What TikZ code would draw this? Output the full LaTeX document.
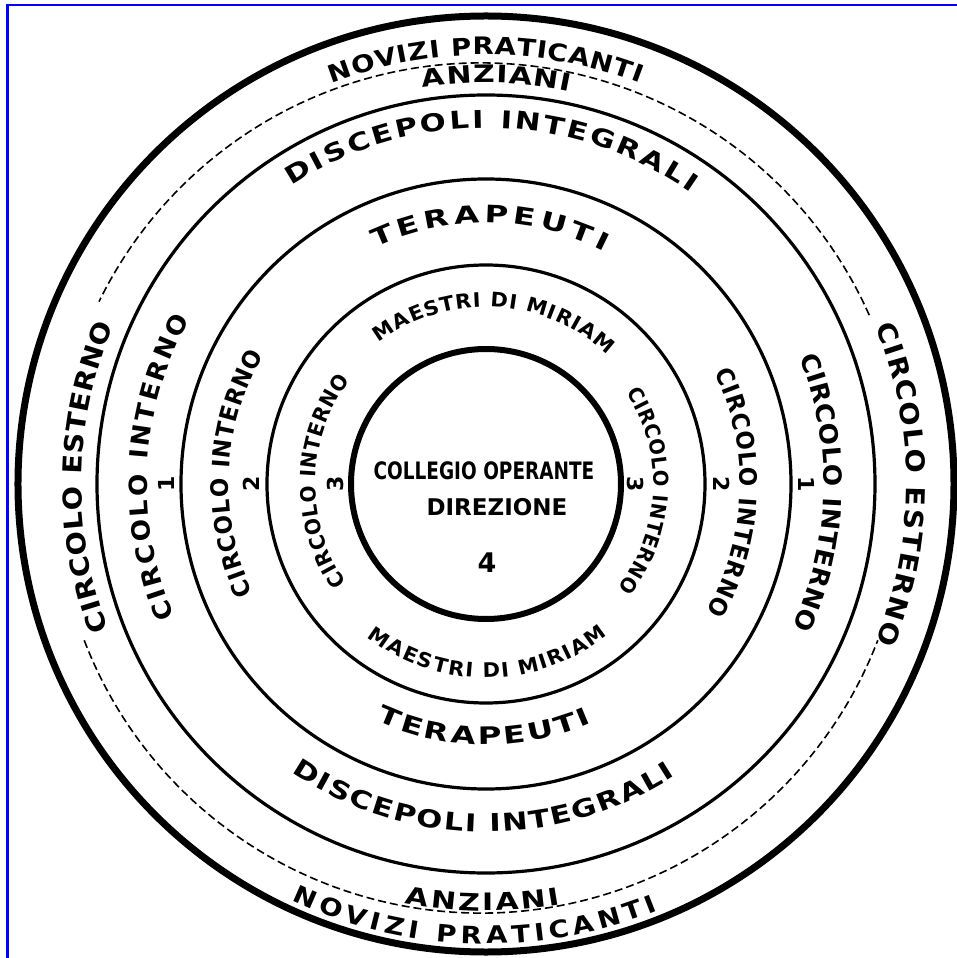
\documentclass[tikz,border=0pt]{standalone}
\usepackage{fontspec}
\setmainfont{DejaVu Sans}
\newfontfamily\condfont[FakeStretch=0.77]{DejaVu Sans}
\newfontfamily\letterfont{DejaVu Sans}
\usetikzlibrary{decorations.text}

\newcommand\ringfont[2]{\letterfont\addfontfeatures{FakeStretch=#2}\bfseries\fontsize{#1}{#1}\selectfont}
% lettering along an arc: mid radius, start, end, size, stretch, raise, text
\newcommand\ringlabel[7]{%
  \path[decorate,decoration={text along path,text align={fit to path},raise=#6pt,
    text={|\ringfont{#4}{#5}|#7}}] (#2:#1) arc[start angle=#2,end angle=#3,radius=#1];}

\tikzset{
  thin ring/.style={line width=3.2pt},
  centre/.style={inner sep=0pt,font=\condfont\bfseries\fontsize{24}{24}\selectfont},
  ringnum/.style={inner sep=0pt,font=\bfseries\fontsize{22}{22}\selectfont}
}

\begin{document}
\begin{tikzpicture}[x=1pt,y=1pt]
  \useasboundingbox (-486,-474) rectangle (470,484);
  \fill[white] (-486,-474) rectangle (470,484);
  \draw[blue,line width=2.5pt] (-478.5,-480) -- (-478.5,479) -- (476,479);

  % circles
  \draw[line width=7pt] (0,0) circle[radius=468];
  \foreach \r in {389,305,219}
    \draw[thin ring] (0,0) circle[radius=\r];
  \draw[line width=6pt] (0,0) circle[radius=135];
  \draw[line width=1.6pt,dash pattern=on 8pt off 4pt]
    (-5,-4) ++(24:425) arc[start angle=24,end angle=154,radius=425];
  \draw[line width=1.6pt,dash pattern=on 8pt off 4pt]
    (-5,-4) ++(201:425) arc[start angle=201,end angle=339,radius=425];

  % outer band
  \ringlabel{438}{111}{69}{24}{1.15}{-8.8}{NOVIZI PRATICANTI}
  \ringlabel{410}{99}{78}{24}{1.25}{-8.8}{ANZIANI}
  \ringlabel{418}{259}{280}{24}{1.25}{-8.8}{ANZIANI}
  \ringlabel{451}{245}{292}{24}{1.15}{-8.8}{NOVIZI PRATICANTI}
  \ringlabel{414}{201}{157}{26}{1.1}{-9.5}{CIRCOLO ESTERNO}
  \ringlabel{430}{22}{-22}{26}{1.1}{-9.5}{CIRCOLO ESTERNO}
  % ring 1
  \ringlabel{365}{123}{55}{24.5}{1.25}{-8.9}{DISCEPOLI INTEGRALI}
  \ringlabel{339}{236}{303}{24.5}{1.25}{-8.9}{DISCEPOLI INTEGRALI}
  \ringlabel{348}{203}{151}{25}{1.05}{-9.1}{CIRCOLO INTERNO}
  \ringlabel{347}{22}{-25}{25}{1.05}{-9.1}{CIRCOLO INTERNO}
  % ring 2
  \ringlabel{270}{115}{63}{24}{1.35}{-8.8}{TERAPEUTI}
  \ringlabel{252}{245}{294}{24}{1.35}{-8.8}{TERAPEUTI}
  \ringlabel{266}{205}{150}{24}{0.95}{-8.8}{CIRCOLO INTERNO}
  \ringlabel{263}{26}{-30}{24}{0.95}{-8.8}{CIRCOLO INTERNO}
  % ring 3
  \ringlabel{184.5}{127}{47}{20}{1.05}{-7.3}{MAESTRI DI MIRIAM}
  \ringlabel{186.5}{232}{309}{20}{1.05}{-7.3}{MAESTRI DI MIRIAM}
  \ringlabel{178.5}{215}{143}{21}{0.95}{-7.7}{CIRCOLO INTERNO}
  \ringlabel{175}{33}{-38}{20.5}{0.95}{-7.5}{CIRCOLO INTERNO}

  % ring numbers
  \node[ringnum,rotate=90] (one l) at (180:320) {1};
  \node[ringnum,rotate=-90] (one r) at (0:321) {1};
  \node[ringnum,rotate=90] (two l) at (180:235) {2};
  \node[ringnum,rotate=-90] (two r) at (0:236) {2};
  \node[ringnum,rotate=90] (three l) at (180:151) {3};
  \node[ringnum,rotate=-90] (three r) at (0:150) {3};

  % centre
  \node[centre] (coll) at (-2,13) {COLLEGIO OPERANTE};
  \node[inner sep=0pt,font=\bfseries\fontsize{23}{23}\selectfont] (dir) at (11,-23) {DIREZIONE};
  \node[ringnum,font=\bfseries\fontsize{27}{27}\selectfont] (four) at (1,-79) {4};
\end{tikzpicture}
\end{document}
